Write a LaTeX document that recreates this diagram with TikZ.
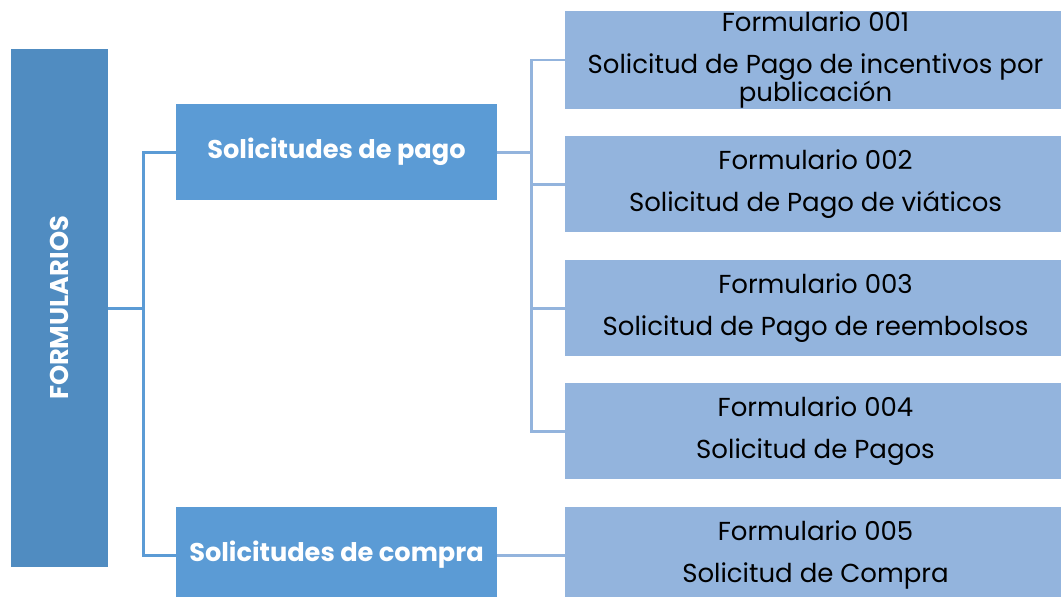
\documentclass[tikz,border=0pt]{standalone}
\usepackage{fontspec}
\setmainfont{Poppins}
\definecolor{topblue}{HTML}{508CC1}
\definecolor{midblue}{HTML}{5B9BD5}
\definecolor{lowblue}{HTML}{93B4DD}
\tikzset{
  topbox/.style={fill=topblue,draw=none,minimum width=1.94cm,minimum height=10.36cm,inner sep=0pt},
  midbox/.style={fill=midblue,draw=none,minimum width=6.42cm,minimum height=1.92cm,inner sep=0pt,
    text=white,font=\fontsize{14.6}{17}\selectfont\bfseries},
  formbox/.style={fill=lowblue,draw=none,minimum width=10.02cm,minimum height=1.92cm,inner sep=0pt,
    align=center,font=\fontsize{14.8}{16.4}\selectfont},
  midlink/.style={draw=midblue,line width=1.7pt},
  lowlink/.style={draw=lowblue,line width=1.7pt}
}
\begin{document}
\begin{tikzpicture}[x=0.02cm,y=-0.02cm]
    \useasboundingbox (0,0) rectangle (1061,596);

    \node[topbox] (form) at (59.5,308) {};
    \node[rotate=90,text=white,font=\fontsize{14.6}{17}\selectfont\bfseries] (formtxt) at (form.center) {FORMULARIOS};

    \node[midbox] (pago) at (336.5,152) {Solicitudes de pago};
    \node[midbox] (compra) at (336.5,555) {Solicitudes de compra};

    \node[formbox] (f1) at (815.5,60) {Formulario 001\\[7.4pt]Solicitud de Pago de incentivos por\\publicación};
    \node[formbox] (f2) at (815.5,184) {Formulario 002\\[7.4pt]Solicitud de Pago de viáticos};
    \node[formbox] (f3) at (815.5,308) {Formulario 003\\[7.4pt]Solicitud de Pago de reembolsos};
    \node[formbox] (f4) at (815.5,431) {Formulario 004\\[7.4pt]Solicitud de Pagos};
    \node[formbox] (f5) at (815.5,555) {Formulario 005\\[7.4pt]Solicitud de Compra};

    \draw[midlink] (form.east) -- ++(35,0) coordinate (trunka) |- (pago.west);
    \draw[midlink] (trunka) |- (compra.west);

    \draw[lowlink] (pago.east) -- ++(34,0) coordinate (trunkb) |- (f1.west);
    \draw[lowlink] (trunkb) |- (f2.west);
    \draw[lowlink] (trunkb) |- (f3.west);
    \draw[lowlink] (trunkb) |- (f4.west);
    \draw[lowlink] (compra.east) -- (f5.west);
\end{tikzpicture}
\end{document}
